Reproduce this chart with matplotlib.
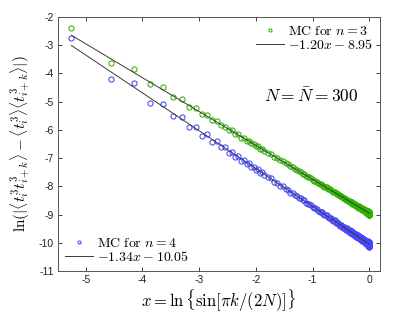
import numpy as np
import matplotlib
matplotlib.use("Agg")
import matplotlib.pyplot as plt

plt.rcParams['mathtext.fontset'] = 'cm'
plt.rcParams['axes.unicode_minus'] = False
plt.rcParams['font.family'] = ['Liberation Sans', 'DejaVu Sans']

N = 300
k_vals = (list(range(1, 31)) + list(range(32, 61, 2)) + list(range(64, 301, 4)))
k_extra = list(range(62, 299, 4))

y_n3 = [-2.40, -3.64, -3.84, -4.39, -4.49, -4.83, -4.92, -5.20, -5.24, -5.44,
        -5.48, -5.65, -5.70, -5.84, -5.89, -6.00, -6.02, -6.14, -6.15, -6.27,
        -6.28, -6.38, -6.39, -6.48, -6.49, -6.57, -6.58, -6.66, -6.67, -6.74,
        -6.82, -6.86, -6.96, -7.00, -7.08, -7.11, -7.19, -7.22, -7.29, -7.32,
        -7.38, -7.41, -7.47, -7.50, -7.55,
        -7.63, -7.67, -7.76, -7.80, -7.88, -7.92, -7.99, -8.02, -8.08, -8.11,
        -8.17, -8.19, -8.25, -8.27, -8.32, -8.34, -8.39, -8.40, -8.45, -8.46,
        -8.51, -8.51, -8.56, -8.56, -8.61, -8.60, -8.65, -8.64, -8.69, -8.68,
        -8.73, -8.71, -8.77, -8.74, -8.80, -8.77, -8.83, -8.79, -8.86, -8.81,
        -8.88, -8.83, -8.91, -8.85, -8.93, -8.86, -8.95, -8.87, -8.97, -8.88,
        -8.99, -8.89, -9.01, -8.90, -9.02, -8.91, -9.03, -8.92, -9.03, -8.93]
y_n3_extra = [-7.56, -7.67, -7.70, -7.80, -7.83, -7.92, -7.94, -8.02, -8.04, -8.11,
              -8.13, -8.20, -8.21, -8.28, -8.28, -8.35, -8.35, -8.41, -8.41, -8.47,
              -8.47, -8.53, -8.52, -8.58, -8.57, -8.63, -8.61, -8.67, -8.65, -8.71,
              -8.69, -8.75, -8.72, -8.78, -8.75, -8.81, -8.78, -8.84, -8.80, -8.87,
              -8.82, -8.89, -8.84, -8.91, -8.86, -8.93, -8.87, -8.94, -8.88, -8.96,
              -8.89, -8.98, -8.90, -9.00, -8.91, -9.01, -8.92, -9.02, -8.93, -9.02]

y_n4 = [-2.73, -4.19, -4.35, -5.03, -5.07, -5.51, -5.53, -5.91, -5.91, -6.20,
        -6.15, -6.43, -6.41, -6.62, -6.60, -6.81, -6.79, -6.96, -6.94, -7.09,
        -7.07, -7.21, -7.19, -7.32, -7.30, -7.42, -7.40, -7.51, -7.50, -7.60,
        -7.68, -7.72, -7.84, -7.87, -7.98, -7.99, -8.10, -8.12, -8.22, -8.23,
        -8.32, -8.33, -8.42, -8.42, -8.50,
        -8.59, -8.63, -8.74, -8.77, -8.87, -8.90, -8.99, -9.01, -9.10, -9.11,
        -9.20, -9.20, -9.29, -9.28, -9.37, -9.36, -9.45, -9.43, -9.52, -9.49,
        -9.58, -9.55, -9.64, -9.60, -9.69, -9.65, -9.74, -9.70, -9.79, -9.74,
        -9.83, -9.78, -9.87, -9.81, -9.91, -9.84, -9.94, -9.87, -9.97, -9.90,
        -9.99, -9.92, -10.02, -9.94, -10.04, -9.96, -10.06, -9.97, -10.08, -9.99,
        -10.10, -10.00, -10.11, -10.01, -10.12, -10.02, -10.13, -10.02, -10.14, -10.03]
y_n4_extra = [-8.49, -8.62, -8.65, -8.77, -8.79, -8.90, -8.91, -9.02, -9.02, -9.13,
              -9.12, -9.22, -9.21, -9.31, -9.29, -9.39, -9.36, -9.46, -9.43, -9.53,
              -9.49, -9.59, -9.55, -9.65, -9.60, -9.70, -9.65, -9.75, -9.69, -9.80,
              -9.73, -9.84, -9.77, -9.87, -9.80, -9.90, -9.83, -9.93, -9.86, -9.96,
              -9.88, -9.99, -9.90, -10.01, -9.92, -10.03, -9.94, -10.05, -9.95, -10.07,
              -9.96, -10.09, -9.97, -10.10, -9.98, -10.12, -9.99, -10.13, -10.00, -10.14]

fit_n3 = (-1.20, -8.95)
fit_n4 = (-1.34, -10.05)

k_all = np.array(k_vals + k_extra)
x_vals = np.log(np.sin(np.pi * k_all / (2 * N)))
y3 = np.array(y_n3 + y_n3_extra)
y4 = np.array(y_n4 + y_n4_extra)

fig = plt.figure(figsize=(4.15, 3.13), dpi=100)
ax = fig.add_axes([58/415, 1 - 271/313, (380 - 58)/415, (271 - 17)/313])

green = '#2fb400'
blue = '#4646ff'
lc = '#3a3a3a'

xl = np.array([x_vals.min(), 0.0])

h3, = ax.plot(x_vals, y3, 'o', mfc='none', mec=green, ms=3.7, mew=0.75)
h4, = ax.plot(x_vals, y4, 'o', mfc='none', mec=blue, ms=3.7, mew=0.75)
l3, = ax.plot(xl, fit_n3[0] * xl + fit_n3[1], '-', color=lc, lw=0.7)
l4, = ax.plot(xl, fit_n4[0] * xl + fit_n4[1], '-', color=lc, lw=0.7)

ax.set_xlim(-5.49, 0.19)
ax.set_ylim(-11, -2)
ax.set_xticks([-5, -4, -3, -2, -1, 0])
ax.set_yticks(list(range(-11, -1)))
ax.tick_params(direction='in', length=3, width=0.6, top=True, right=True,
               labelsize=7.5, pad=3, colors='#222222')
for s in ax.spines.values():
    s.set_linewidth(0.7)
    s.set_color('#555555')

ax.set_xlabel(r'$x=\ln\{\sin[\pi k/(2N)]\}$', fontsize=12, labelpad=2)
ax.set_ylabel(r'$\ln(|\langle t_i^3t_{i+k}^3\rangle-\langle t_i^3\rangle\langle t_{i+k}^3\rangle|)$',
              fontsize=11, labelpad=4)

leg1 = ax.legend([h3, l3], [r'$\mathrm{MC\ for}\ n=3$', r'$-1.20x-8.95$'],
                 loc='upper right', frameon=False, fontsize=10,
                 handlelength=2.0, handletextpad=0.3, labelspacing=0.0,
                 borderaxespad=0.1, markerscale=0.6)
ax.add_artist(leg1)
ax.legend([h4, l4], [r'$\mathrm{MC\ for}\ n=4$', r'$-1.34x-10.05$'],
          loc='lower left', frameon=False, fontsize=10,
          handlelength=2.0, handletextpad=0.3, labelspacing=0.0,
          borderaxespad=0.1, markerscale=0.6)

ax.text(-0.2, -4.77, r'$N=\bar{N}=300$', fontsize=12.5, ha='right', va='center')

fig.savefig('out.png', dpi=100)
